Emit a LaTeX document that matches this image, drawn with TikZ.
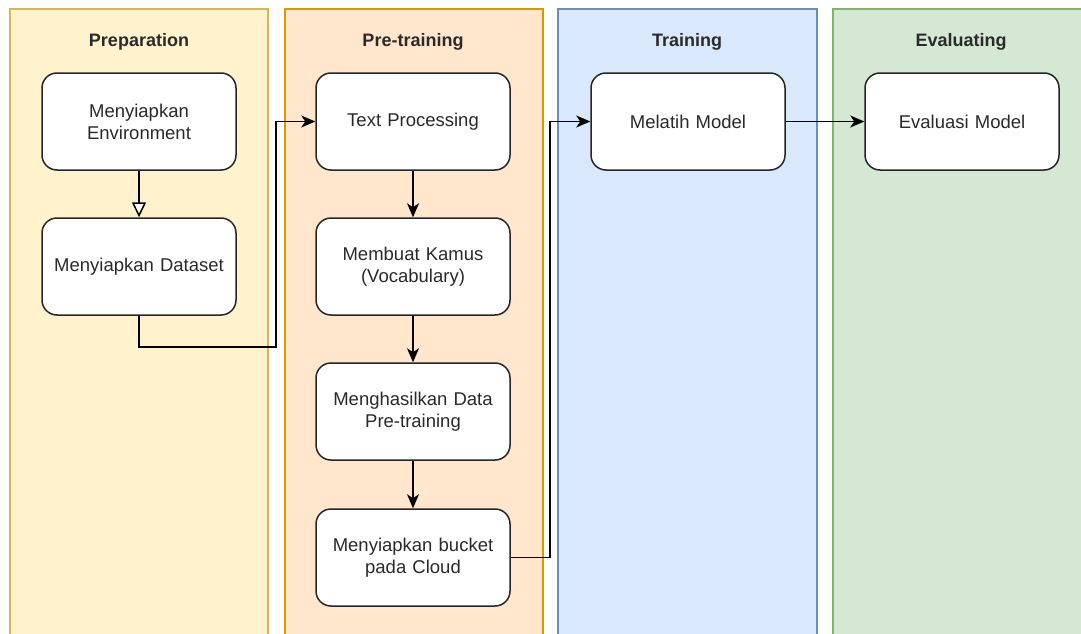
\documentclass[tikz,border=0pt]{standalone}
\usepackage{fontspec}
\setmainfont{Liberation Sans}
\usetikzlibrary{arrows.meta}
\definecolor{prepF}{HTML}{FFF2CC}\definecolor{prepD}{HTML}{D6B656}
\definecolor{preF}{HTML}{FFE6CC}\definecolor{preD}{HTML}{D79B00}
\definecolor{trF}{HTML}{DAE8FC}\definecolor{trD}{HTML}{6C8EBF}
\definecolor{evF}{HTML}{D5E8D4}\definecolor{evD}{HTML}{82B366}
\definecolor{txt}{HTML}{2A2A2A}
\begin{document}
\begin{tikzpicture}[x=1pt,y=-1pt,
  lane/.style={line width=1.3pt},
  title/.style={font=\fontsize{18}{22}\selectfont\bfseries, text=txt},
  box/.style={draw=black!85, fill=white, line width=1.5pt, rounded corners=15pt,
    minimum width=194pt, minimum height=97pt, inner sep=2pt, align=center,
    text width=186pt, font=\fontsize{18.5}{22}\selectfont, text=txt},
  one/.style={label={[font=\fontsize{18.5}{22}\selectfont, text=txt]center:{#1}}},
  conn/.style={line width=1.5pt, draw=black, -{Stealth[length=14pt,width=12pt,inset=4pt]}},
  openconn/.style={line width=1.5pt, draw=black, -{Triangle[open,length=15pt,width=14pt,fill=white]}}
]
\useasboundingbox (0,0) rectangle (1081,634);
\fill[white] (0,0) rectangle (1081,634);
% lanes
\filldraw[lane, fill=prepF, draw=prepD] (10,9) rectangle (268,640);
\filldraw[lane, fill=preF, draw=preD] (285,9) rectangle (543,640);
\filldraw[lane, fill=trF, draw=trD] (558,9) rectangle (817,640);
\filldraw[lane, fill=evF, draw=evD] (833,9) rectangle (1090,640);
\node[title] (t1) at (139,42) {Preparation};
\node[title] (t2) at (413,42) {Pre-training};
\node[title] (t3) at (687,42) {Training};
\node[title] (t4) at (961,42) {Evaluating};
% boxes
\node[box] (env) at (139,121.5) {Menyiapkan\\Environment};
\node[box] (ds) at (139,266.5) {\raisebox{-2pt}{Menyiapkan Dataset}};
\node[box] (tp) at (413,121.5) {\raisebox{-2pt}{Text Processing}};
\node[box] (kamus) at (413,266.5) {Membuat Kamus\\(Vocabulary)};
\node[box] (data) at (413,411.5) {Menghasilkan Data\\Pre-training};
\node[box] (bucket) at (413,557.5) {Menyiapkan bucket\\pada Cloud};
\node[box] (latih) at (688,121.5) {\raisebox{-2pt}{Melatih Model}};
\node[box] (eval) at (962,121.5) {\raisebox{-2pt}{Evaluasi Model}};
% connectors
\draw[openconn] (env) -- (ds);
\draw[conn] (ds.south) |- (276,347) |- (tp.west);
\draw[conn] (tp) -- (kamus);
\draw[conn] (kamus) -- (data);
\draw[conn] (data) -- (bucket);
\draw[conn] (bucket.east) -| (550,121.5) -- (latih.west);
\draw[conn] (latih) -- (eval);
\end{tikzpicture}
\end{document}
